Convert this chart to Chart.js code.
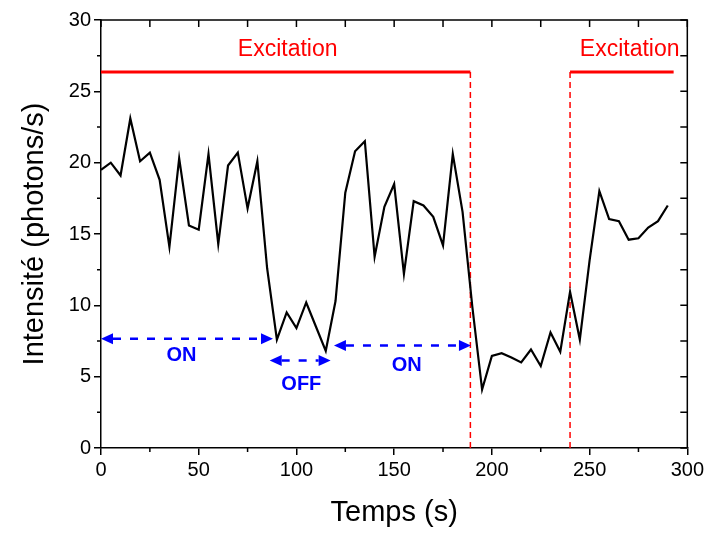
<!DOCTYPE html>
<html>
<head>
<meta charset="utf-8">
<script src="https://cdn.jsdelivr.net/npm/chart.js@4.4.0/dist/chart.umd.min.js"></script>
<style>
    html, body { margin: 0; padding: 0; background: #fff; }
    #wrap { width: 707px; height: 533px; }
</style>
</head>
<body>
<div id="wrap"><canvas id="chart"></canvas></div>
<script>
// Time axis (s)
const times = [0, 5, 10, 15, 20, 25, 30, 35, 40, 45, 50, 55, 60, 65, 70, 75, 80, 85, 90, 95,
    100, 105, 110, 115, 120, 125, 130, 135, 140, 145, 150, 155, 160, 165, 170, 175, 180, 185, 190, 195,
    200, 205, 210, 215, 220, 225, 230, 235, 240, 245, 250, 255, 260, 265, 270, 275, 280, 285, 290];

// Intensity (photons/s)
const intensity = [19.5, 20.0, 19.1, 23.1, 20.1, 20.7, 18.8, 14.1, 20.3, 15.6, 15.3, 20.6, 14.3, 19.8, 20.7, 16.8, 20.1, 12.6, 7.6, 9.5,
    8.4, 10.2, 8.5, 6.8, 10.3, 17.9, 20.8, 21.5, 13.4, 16.9, 18.5, 12.2, 17.3, 17.0, 16.2, 14.2, 20.6, 16.55, 9.9, 4.1,
    6.45, 6.65, 6.35, 6.0, 6.9, 5.75, 8.1, 6.75, 10.95, 7.6, 13.15, 18.0, 16.05, 15.9, 14.6, 14.7, 15.45, 15.9, 17.0];

// Excitation periods
const excitationSpans = [[0, 189], [240, 293]];
const excitationLevel = 26.35;
const excitationLabels = [
    { text: 'Excitation', x: 95.5, y: 27.95 },
    { text: 'Excitation', x: 270.5, y: 27.95 }
];

// ON / OFF arrows
const arrows = [
    { from: 0, to: 88, y: 7.65 },
    { from: 86.3, to: 117.5, y: 6.13 },
    { from: 119.2, to: 189.3, y: 7.18 }
];
const arrowLabels = [
    { text: 'ON', x: 41.2, y: 6.5 },
    { text: 'OFF', x: 102.5, y: 4.45 },
    { text: 'ON', x: 156.4, y: 5.8 }
];

const FONT = 'Arial, "Liberation Sans", sans-serif';

// Helper: filled arrow head, tip at (x, y), pointing in dir (+1 right, -1 left)
function arrowHead(ctx, x, y, dir) {
    ctx.beginPath();
    ctx.moveTo(x, y);
    ctx.lineTo(x - dir * 12, y - 5.5);
    ctx.lineTo(x - dir * 12, y + 5.5);
    ctx.closePath();
    ctx.fill();
}

const annotations = {
    id: 'annotations',
    beforeDatasetsDraw(chart) {
        const ctx = chart.ctx;
        const xs = chart.scales.x, ys = chart.scales.y;
        const yLev = ys.getPixelForValue(excitationLevel);
        ctx.save();

        // red excitation bars
        ctx.strokeStyle = '#ff0000';
        ctx.lineWidth = 3;
        excitationSpans.forEach(([a, b]) => {
            ctx.beginPath();
            ctx.moveTo(xs.getPixelForValue(a), yLev);
            ctx.lineTo(xs.getPixelForValue(b), yLev);
            ctx.stroke();
        });

        // dashed red drop lines
        ctx.lineWidth = 1.5;
        ctx.setLineDash([6, 4]);
        [excitationSpans[0][1], excitationSpans[1][0]].forEach(t => {
            const px = xs.getPixelForValue(t);
            ctx.beginPath();
            ctx.moveTo(px, yLev);
            ctx.lineTo(px, ys.getPixelForValue(0));
            ctx.stroke();
        });
        ctx.setLineDash([]);

        ctx.fillStyle = '#ff0000';
        ctx.font = '23px ' + FONT;
        ctx.textAlign = 'center';
        ctx.textBaseline = 'middle';
        excitationLabels.forEach(l => {
            ctx.fillText(l.text, xs.getPixelForValue(l.x), ys.getPixelForValue(l.y));
        });

        // blue ON/OFF arrows
        ctx.strokeStyle = '#0000ff';
        ctx.fillStyle = '#0000ff';
        ctx.lineWidth = 2.5;
        arrows.forEach(a => {
            const x1 = xs.getPixelForValue(a.from), x2 = xs.getPixelForValue(a.to);
            const py = ys.getPixelForValue(a.y);
            ctx.setLineDash([8, 9]);
            ctx.beginPath();
            ctx.moveTo(x1 + 12, py);
            ctx.lineTo(x2 - 12, py);
            ctx.stroke();
            ctx.setLineDash([]);
            arrowHead(ctx, x1, py, -1);
            arrowHead(ctx, x2, py, 1);
        });

        ctx.font = 'bold 20px ' + FONT;
        arrowLabels.forEach(l => {
            ctx.fillText(l.text, xs.getPixelForValue(l.x), ys.getPixelForValue(l.y));
        });
        ctx.restore();
    },
    afterDraw(chart) {
        // frame top/right, minor ticks and mirrored inner ticks
        const ctx = chart.ctx;
        const xs = chart.scales.x, ys = chart.scales.y;
        const area = chart.chartArea;
        ctx.save();
        ctx.strokeStyle = '#000';
        ctx.lineWidth = 1.5;
        ctx.beginPath();
        ctx.moveTo(area.left, area.top);
        ctx.lineTo(area.right, area.top);
        ctx.lineTo(area.right, area.bottom);
        ctx.stroke();

        ctx.beginPath();
        for (let t = xs.min; t <= xs.max; t += 25) {
            const px = xs.getPixelForValue(t);
            ctx.moveTo(px, area.top);
            ctx.lineTo(px, area.top + 7);
            if (t % 50 !== 0) {
                ctx.moveTo(px, area.bottom);
                ctx.lineTo(px, area.bottom + 4);
            }
        }
        for (let v = ys.min; v <= ys.max; v += 2.5) {
            const py = ys.getPixelForValue(v);
            ctx.moveTo(area.right, py);
            ctx.lineTo(area.right - 7, py);
            if (v % 5 !== 0) {
                ctx.moveTo(area.left, py);
                ctx.lineTo(area.left - 4, py);
            }
        }
        ctx.stroke();
        ctx.restore();
    }
};

new Chart(document.getElementById('chart'), {
    type: 'line',
    data: {
        datasets: [{
            data: times.map((t, i) => ({ x: t, y: intensity[i] })),
            borderColor: '#000',
            borderWidth: 2.2,
            pointRadius: 0,
            tension: 0,
            fill: false
        }]
    },
    options: {
        responsive: true,
        maintainAspectRatio: false,
        animation: false,
        devicePixelRatio: 1,
        layout: { padding: { top: 20, right: 19, left: 0, bottom: 0 } },
        plugins: {
            legend: { display: false },
            tooltip: { enabled: false }
        },
        scales: {
            x: {
                type: 'linear',
                min: 0,
                max: 300,
                afterFit: scale => { scale.height = 85; },
                ticks: { stepSize: 50, color: '#000', padding: 3, maxRotation: 0, font: { size: 20, family: FONT } },
                grid: { drawOnChartArea: false, drawTicks: true, tickLength: 7, color: '#000', lineWidth: 1.5 },
                border: { display: true, color: '#000', width: 1.5 },
                title: { display: true, text: 'Temps (s)', color: '#000', font: { size: 29, family: FONT }, padding: { top: 4, bottom: 3 } }
            },
            y: {
                min: 0,
                max: 30,
                afterFit: scale => { scale.width = 101; },
                ticks: { stepSize: 5, color: '#000', padding: 3, font: { size: 20, family: FONT } },
                grid: { drawOnChartArea: false, drawTicks: true, tickLength: 7, color: '#000', lineWidth: 1.5 },
                border: { display: true, color: '#000', width: 1.5 },
                title: { display: true, text: 'Intensité (photons/s)', color: '#000', font: { size: 29, family: FONT }, padding: { top: 18, bottom: 4 } }
            }
        }
    },
    plugins: [annotations]
});
</script>
</body>
</html>
